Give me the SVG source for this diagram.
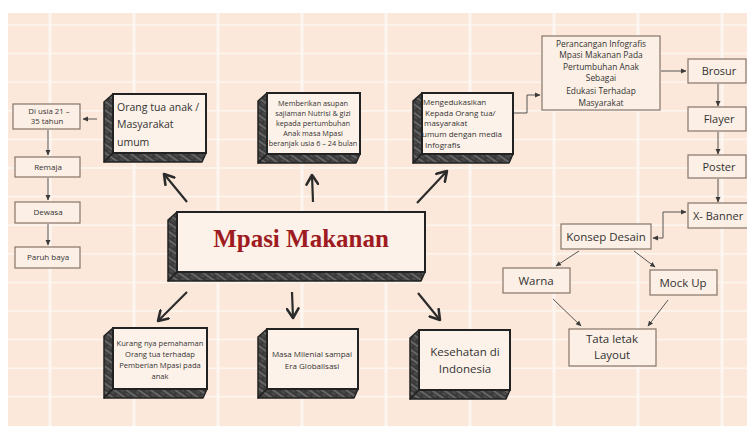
<svg xmlns="http://www.w3.org/2000/svg" width="747" height="428" viewBox="0 0 747 428">
<defs>
<pattern id="hatch" patternUnits="userSpaceOnUse" width="7" height="7" patternTransform="rotate(35)">
<rect width="7" height="7" fill="#3a3a3a"/>
<line x1="0" y1="2" x2="7" y2="2" stroke="#8a8a8a" stroke-width="1.1"/>
<line x1="0" y1="5" x2="4" y2="5" stroke="#666" stroke-width="0.8"/>
</pattern>
<marker id="bigArrow" markerUnits="userSpaceOnUse" markerWidth="14" markerHeight="14" refX="9" refY="6" orient="auto" viewBox="0 0 12 12">
<path d="M1,1 L9,6 L1,11" fill="none" stroke="#2b2b2b" stroke-width="2.2" stroke-linecap="round" stroke-linejoin="round"/>
</marker>
<marker id="smallArrow" markerUnits="userSpaceOnUse" markerWidth="6" markerHeight="6" refX="5" refY="3" orient="auto" viewBox="0 0 6 6">
<path d="M0,0.5 L5.5,3 L0,5.5 Z" fill="#3a3a3a"/>
</marker>
<marker id="smallArrowStart" markerUnits="userSpaceOnUse" markerWidth="6" markerHeight="6" refX="1" refY="3" orient="auto" viewBox="0 0 6 6">
<path d="M6,0.5 L0.5,3 L6,5.5 Z" fill="#3a3a3a"/>
</marker>
</defs>
<style>
.side{fill:url(#hatch);stroke:#222;stroke-width:1.5;stroke-linejoin:round}
.front{fill:#fdf2e9;stroke:#222;stroke-width:2}
.thin{fill:#fcefe5;stroke:#857468;stroke-width:1.2}
.t{font-family:"Open Sans","Noto Sans",sans-serif;fill:#333}
.big{stroke:#2b2b2b;stroke-width:2.2;fill:none;marker-end:url(#bigArrow)}
.sm{stroke:#555;stroke-width:1;fill:none;marker-end:url(#smallArrow)}
.grid{stroke:#fdf6f0;fill:none}
</style>
<rect x="0" y="0" width="747" height="428" fill="#ffffff"/>
<rect x="8" y="13" width="739" height="413" fill="#fbe8da"/>
<g id="grid" class="grid">
<path stroke-width="1.5" d="M8,25H747M8,53.6H747M8,82.2H747M8,110.8H747M8,139.4H747M8,168H747M8,196.6H747M8,225.2H747M8,253.8H747M8,282.4H747M8,311H747M8,339.6H747M8,368.2H747M8,396.8H747"/>
<path stroke-width="3" d="M50,13V426M134,13V426M218,13V426M302,13V426M386,13V426M470,13V426M554,13V426M638,13V426M722,13V426"/>
</g>

<g id="connectors">
<line class="big" x1="187" y1="202" x2="164" y2="174"/>
<line class="big" x1="313" y1="202" x2="312" y2="175"/>
<line class="big" x1="417" y1="203" x2="447" y2="171"/>
<line class="big" x1="187" y1="292" x2="158" y2="321"/>
<line class="big" x1="292" y1="292" x2="293" y2="318"/>
<line class="big" x1="418" y1="293" x2="440" y2="320"/>
<line class="sm" x1="97" y1="119" x2="83" y2="119"/>
<line class="sm" x1="48" y1="130" x2="48" y2="155"/>
<line class="sm" x1="48" y1="178" x2="48" y2="200"/>
<line class="sm" x1="48" y1="224" x2="48" y2="245"/>
<polyline class="sm" points="513,113 527,113 527,95 540,95"/>
<line class="sm" x1="661" y1="71" x2="686" y2="71"/>
<line class="sm" x1="718" y1="84" x2="718" y2="106"/>
<line class="sm" x1="718" y1="132" x2="718" y2="154"/>
<line class="sm" x1="718" y1="179" x2="718" y2="202"/>
<polyline class="sm" points="653,238 663,238 663,212 686,212" marker-start="url(#smallArrowStart)"/>
<line class="sm" x1="579" y1="251" x2="556" y2="266"/>
<line class="sm" x1="634" y1="251" x2="655" y2="267"/>
<line class="sm" x1="553" y1="299" x2="581" y2="326"/>
<line class="sm" x1="668" y1="300" x2="648" y2="326"/>
</g>

<g id="orangtua">
<polygon class="side" points="113,94 104,102 104,162 113,153"/>
<polygon class="side" points="104,162 113,153 206,153 202,162"/>
<rect class="front" x="113" y="94" width="93" height="59"/>
<text class="t" font-size="10.5" x="117" y="111">Orang tua anak /</text>
<text class="t" font-size="10.5" x="117" y="128">Masyarakat</text>
<text class="t" font-size="10.5" x="117" y="146">umum</text>
</g>

<g id="memberikan">
<polygon class="side" points="267,93 258,101 258,163 267,154"/>
<polygon class="side" points="258,163 267,154 360,154 356,163"/>
<rect class="front" x="267" y="93" width="93" height="61"/>
<g class="t" font-size="7.3" text-anchor="middle">
<text x="313" y="106">Memberikan asupan</text>
<text x="313" y="116">sajiaman Nutrisi &amp; gizi</text>
<text x="313" y="126">kepada pertumbuhan</text>
<text x="313" y="136">Anak masa Mpasi</text>
<text x="313" y="146">beranjak usia 6 – 24 bulan</text>
</g>
</g>

<g id="mengedukasikan">
<polygon class="side" points="422,93 413,101 413,163 422,154"/>
<polygon class="side" points="413,163 422,154 513,154 509,163"/>
<rect class="front" x="422" y="93" width="91" height="61"/>
<g class="t" font-size="8">
<text x="423" y="105">Mengedukasikan</text>
<text x="425" y="116">Kepada Orang tua/</text>
<text x="424" y="126">masyarakat</text>
<text x="422" y="137">umum dengan media</text>
<text x="425" y="148">Infografis</text>
</g>
</g>

<g id="mpasi">
<polygon class="side" points="177,212 168,220 168,281 177,272"/>
<polygon class="side" points="168,281 177,272 425,272 421,281"/>
<rect class="front" x="177" y="212" width="248" height="60"/>
<text x="301" y="247" text-anchor="middle" font-family="Liberation Serif, serif" font-weight="bold" font-size="25" fill="#9e1b22">Mpasi Makanan</text>
</g>

<g id="kurangnya">
<polygon class="side" points="113,328 104,336 104,398 113,389"/>
<polygon class="side" points="104,398 113,389 207,389 203,398"/>
<rect class="front" x="113" y="328" width="94" height="61"/>
<g class="t" font-size="7.6" text-anchor="middle">
<text x="160" y="346">Kurang nya pemahaman</text>
<text x="160" y="357">Orang tua terhadap</text>
<text x="160" y="368">Pemberian Mpasi pada</text>
<text x="160" y="379">anak</text>
</g>
</g>

<g id="milenial">
<polygon class="side" points="267,329 258,337 258,398 267,389"/>
<polygon class="side" points="258,398 267,389 358,389 354,398"/>
<rect class="front" x="267" y="329" width="91" height="60"/>
<g class="t" font-size="8" text-anchor="middle">
<text x="312" y="357">Masa Milenial sampai</text>
<text x="312" y="369">Era Globalisasi</text>
</g>
</g>

<g id="kesehatan">
<polygon class="side" points="419,330 410,338 410,399 419,390"/>
<polygon class="side" points="410,399 419,390 510,390 506,399"/>
<rect class="front" x="419" y="330" width="91" height="60"/>
<g class="t" font-size="11.5" text-anchor="middle">
<text x="465" y="356">Kesehatan di</text>
<text x="465" y="373">Indonesia</text>
</g>
</g>

<g id="usia">
<rect class="thin" x="13" y="104" width="67" height="25"/>
<g class="t" font-size="7.8" text-anchor="middle">
<text x="49" y="114">Di usia 21 –</text>
<text x="47" y="124">35 tahun</text>
</g>
</g>
<g id="remaja">
<rect class="thin" x="15" y="157" width="65" height="20"/>
<text class="t" font-size="8" text-anchor="middle" x="48" y="170">Remaja</text>
</g>
<g id="dewasa">
<rect class="thin" x="15" y="202" width="65" height="21"/>
<text class="t" font-size="8" text-anchor="middle" x="48" y="215">Dewasa</text>
</g>
<g id="paruhbaya">
<rect class="thin" x="15" y="247" width="65" height="21"/>
<text class="t" font-size="8" text-anchor="middle" x="48" y="260">Paruh baya</text>
</g>

<g id="perancangan">
<rect class="thin" x="542" y="36" width="118" height="74"/>
<g class="t" font-size="8.4" text-anchor="middle">
<text x="601" y="47">Perancangan Infografis</text>
<text x="601" y="58">Mpasi Makanan Pada</text>
<text x="601" y="70">Pertumbuhan Anak</text>
<text x="601" y="81">Sebagai</text>
<text x="601" y="94">Edukasi Terhadap</text>
<text x="601" y="106">Masyarakat</text>
</g>
</g>
<g id="brosur">
<rect class="thin" x="688" y="59" width="58" height="24"/>
<text class="t" font-size="11" text-anchor="middle" x="719" y="75">Brosur</text>
</g>
<g id="flayer">
<rect class="thin" x="688" y="107" width="58" height="24"/>
<text class="t" font-size="11" text-anchor="middle" x="719" y="123">Flayer</text>
</g>
<g id="poster">
<rect class="thin" x="688" y="155" width="58" height="23"/>
<text class="t" font-size="11" text-anchor="middle" x="719" y="171">Poster</text>
</g>
<g id="xbanner">
<rect class="thin" x="688" y="203" width="70" height="25"/>
<text class="t" font-size="11" x="693" y="220">X- Banner</text>
</g>
<g id="konsep">
<rect class="thin" x="561" y="224" width="90" height="25"/>
<text class="t" font-size="11.5" text-anchor="middle" x="606" y="241">Konsep Desain</text>
</g>
<g id="warna">
<rect class="thin" x="503" y="268" width="67" height="25"/>
<text class="t" font-size="11.5" text-anchor="middle" x="536" y="285">Warna</text>
</g>
<g id="mockup">
<rect class="thin" x="650" y="270" width="67" height="25"/>
<text class="t" font-size="11.5" text-anchor="middle" x="683" y="287">Mock Up</text>
</g>
<g id="tataletak">
<rect class="thin" x="569" y="329" width="87" height="37"/>
<g class="t" font-size="11.5" text-anchor="middle">
<text x="612" y="343">Tata letak</text>
<text x="612" y="359">Layout</text>
</g>
</g>
</svg>
